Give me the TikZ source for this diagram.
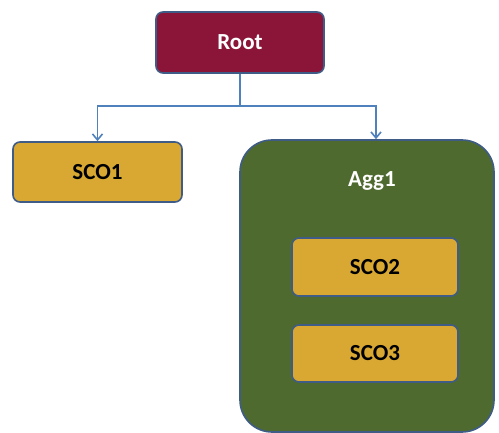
\documentclass[tikz,border=0pt]{standalone}
\usepackage{fontspec}
\setmainfont{Carlito}
\usetikzlibrary{arrows.meta}
\definecolor{rootred}{HTML}{8A1538}
\definecolor{gold}{HTML}{D8A832}
\definecolor{agggreen}{HTML}{4E6A2E}
\definecolor{edgeblue}{HTML}{3E5C86}
\definecolor{linkblue}{HTML}{4F81BD}
\tikzset{
  lbl/.style={font=\bfseries\fontsize{23}{26}\selectfont},
  box/.style={draw=edgeblue, line width=1.6pt, rounded corners=7pt, lbl},
  link/.style={draw=linkblue, line width=1.6pt},
  arr/.style={link, -{Straight Barb[length=6pt,width=10pt]}}
}
\begin{document}
\begin{tikzpicture}[x=1pt,y=-1pt]
\useasboundingbox (0,0) rectangle (499,433);
\node[box, fill=rootred, text=white, minimum width=168pt, minimum height=61pt] (root) at (240,42.5) {Root};
\node[box, fill=gold, text=black, minimum width=169pt, minimum height=60pt] (sco1) at (97.5,172) {SCO1};
\node[draw=edgeblue, line width=1.6pt, fill=agggreen, rounded corners=32pt, minimum width=254pt, minimum height=292pt] (agg) at (367,286) {};
\node[lbl, text=white] (aggl) at (372,181) {Agg1};
\node[box, fill=gold, text=black, minimum width=166pt, minimum height=58pt] (sco2) at (375,267) {SCO2};
\node[box, fill=gold, text=black, minimum width=166pt, minimum height=57pt] (sco3) at (375,353.5) {SCO3};
\coordinate (junc) at (240,106);
\draw[link] (root.south) -- (junc);
\draw[arr] (junc) -| (sco1.north);
\draw[arr] (junc) -| ([xshift=9pt]agg.north);
\end{tikzpicture}
\end{document}
